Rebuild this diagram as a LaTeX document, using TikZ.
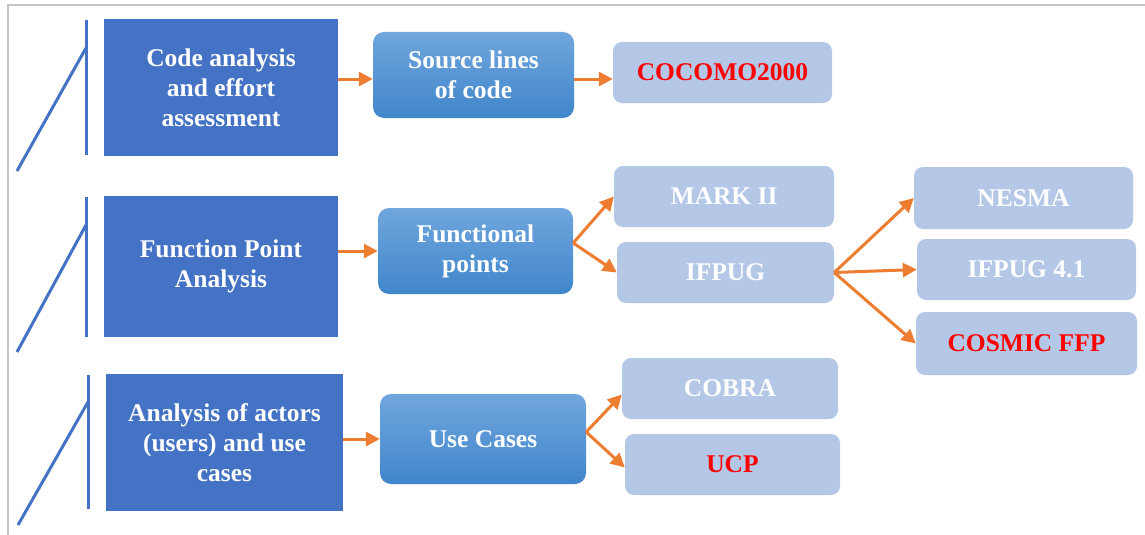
\documentclass[tikz,border=0pt]{standalone}
\usepackage{fontspec}
\setmainfont{Liberation Serif}
\usetikzlibrary{arrows.meta}
\definecolor{deepblue}{HTML}{4472C4}
\definecolor{midtop}{HTML}{70A6DD}
\definecolor{midbot}{HTML}{4086CB}
\definecolor{paleblue}{HTML}{B4C7E7}
\definecolor{arrowor}{HTML}{ED7D31}
\definecolor{framegray}{HTML}{C4C4C4}
\definecolor{hotred}{HTML}{FF0000}
\tikzset{
  boxtext/.style={font=\bfseries\fontsize{25.5}{30}\selectfont, align=center, text=white, inner sep=0pt},
  areabox/.style={boxtext, fill=deepblue},
  methodbox/.style={boxtext, rounded corners=11pt, top color=midtop, bottom color=midbot, draw=none},
  variantbox/.style={boxtext, rounded corners=9pt, fill=paleblue},
  redtext/.style={text=hotred},
  flow/.style={draw=arrowor, line width=3pt, -{Triangle[length=14pt,width=14pt]}},
  bracketline/.style={draw=deepblue, line width=3pt},
}
\begin{document}
\begin{tikzpicture}[x=1pt,y=-1pt]
\useasboundingbox (0,0) rectangle (1145,535);
\fill[white] (0,0) rectangle (1145,535);
% page frame
\draw[framegray, line width=2pt] (8,535) -- (8,5) -- (1145,5);

% bracket marks in front of each area
\foreach \xv/\ytop/\ybot/\yd/\xe/\ye in {86/20/155/48/17/171, 86/197/337/225/17/352, 88/375/509/402/18/525}{
  \draw[bracketline] (\xv,\ytop) -- (\xv,\ybot);
  \draw[bracketline] (\xv,\yd) -- (\xe,\ye);
}

% analysis areas
\node[areabox, minimum width=234pt, minimum height=137pt] (code) at (221,87.5) {Code analysis\\and effort\\assessment};
\node[areabox, minimum width=234pt, minimum height=141pt] (fpa) at (221,266.5) {Function Point\\Analysis};
\node[areabox, minimum width=237pt, minimum height=137pt] (actors) at (224.5,442.5) {Analysis of actors\\(users) and use\\cases};

% measures
\node[methodbox, minimum width=201pt, minimum height=86pt] (sloc) at (473.5,75) {Source lines\\of code};
\node[methodbox, minimum width=195pt, minimum height=86pt] (fp) at (475.5,251) {Functional\\points};
\node[methodbox, minimum width=206pt, minimum height=90pt] (uc) at (483,439) {Use Cases};

% methods
\node[variantbox, redtext, minimum width=219pt, minimum height=61pt] (cocomo) at (722.5,72.5) {COCOMO2000};
\node[variantbox, minimum width=220pt, minimum height=61pt] (mark) at (724,196.5) {MARK II};
\node[variantbox, minimum width=217pt, minimum height=61pt] (ifpug) at (725.5,272.5) {IFPUG};
\node[variantbox, minimum width=219pt, minimum height=62pt] (nesma) at (1023.5,198) {NESMA};
\node[variantbox, minimum width=219pt, minimum height=61pt] (ifpugf) at (1026.5,269.5) {IFPUG 4.1};
\node[variantbox, redtext, minimum width=221pt, minimum height=63pt] (cosmic) at (1026.5,343.5) {COSMIC FFP};
\node[variantbox, minimum width=216pt, minimum height=61pt] (cobra) at (730,388.5) {COBRA};
\node[variantbox, redtext, minimum width=215pt, minimum height=61pt] (ucp) at (732.5,464.5) {UCP};

% connectors
\draw[flow] ([yshift=-4pt]code.east |- sloc.west) -- ([yshift=-4pt]sloc.west);
\draw[flow] ([yshift=-4pt]sloc.east) -- ([yshift=-4pt]sloc.east -| cocomo.west);
\draw[flow] (fpa.east |- fp.west) -- (fp.west);
\draw[flow] ([yshift=8pt]fp.east) -- (mark.west);
\draw[flow] ([yshift=8pt]fp.east) -- (ifpug.west);
\draw[flow] (ifpug.east) -- (nesma.west);
\draw[flow] (ifpug.east) -- (ifpugf.west);
\draw[flow] (ifpug.east) -- (cosmic.west);
\draw[flow] (actors.east |- uc.west) -- (uc.west);
\draw[flow] ([yshift=7pt]uc.east) -- ([yshift=-6pt]cobra.west);
\draw[flow] ([yshift=7pt]uc.east) -- ([yshift=-3pt]ucp.west);
\end{tikzpicture}
\end{document}
